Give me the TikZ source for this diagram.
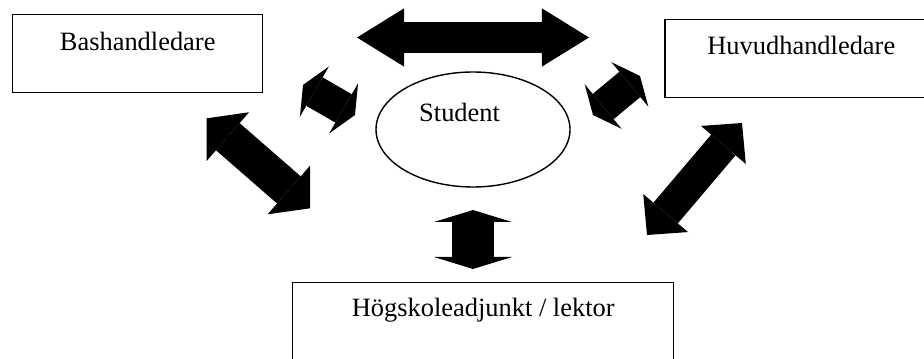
\documentclass[tikz,border=0pt]{standalone}
\usepackage{fontspec}
\setmainfont{Liberation Serif}
\usepackage{tikz}
\usetikzlibrary{arrows.meta,shapes.geometric}

\begin{document}
\begin{tikzpicture}[
    box/.style={draw, line width=1pt, inner sep=0pt, anchor=north west,
                font=\fontsize{18.8}{22}\selectfont},
    oval/.style={draw, ellipse, line width=1pt, inner sep=0pt,
                 minimum width=4.85cm, minimum height=2.875cm},
    txt/.style={font=\fontsize{18.8}{22}\selectfont, anchor=base, inner sep=0pt},
    blk/.style n args={3}{line width=#1,
        arrows={Triangle[width=#2,length=#3,line width=0pt]-Triangle[width=#2,length=#3,line width=0pt]}}]
  \useasboundingbox (0,0) rectangle (23.1,8.95);
  % boxes and the student
  \node[box, minimum width=6.25cm, text height=0.9cm, text depth=1.04cm] (bas) at (0.3,8.6) {Bashandledare};
  \node[box, minimum width=6.81cm, text height=0.88cm, text depth=1.06cm] (huv) at (16.61,8.475) {Huvudhandledare};
  \node[box, minimum width=9.525cm, text height=0.84cm, text depth=1.2cm] (hog) at (7.3,1.9) {Högskoleadjunkt / lektor};
  \node[oval] (stud) at (11.825,5.7125) {};
  \node[txt] (studtxt) at (11.49,5.9) {Student};
  % arrow ends
  \coordinate (bh1) at (8.925,8.0125);
  \coordinate (bh2) at (14.725,8.0125);
  \coordinate (bg1) at (5.1675,5.9925);
  \coordinate (bg2) at (7.75,3.7425);
  \coordinate (bs1) at (7.575,6.825);
  \coordinate (bs2) at (8.875,6.075);
  \coordinate (sh1) at (14.825,6.075);
  \coordinate (sh2) at (16.0,7.05);
  \coordinate (hg1) at (18.55,5.875);
  \coordinate (hg2) at (16.175,3.075);
  \coordinate (sg1) at (11.825,3.7);
  \coordinate (sg2) at (11.825,2.225);
  % block arrows
  \draw[blk={0.76cm}{1.46cm}{1.18cm}] (bh1) -- (bh2);
  \draw[blk={0.9cm}{1.62cm}{0.7cm}] (bg1) -- (bg2);
  \draw[blk={0.82cm}{1.45cm}{0.33cm}] (bs1) -- (bs2);
  \draw[blk={0.82cm}{1.45cm}{0.33cm}] (sh1) -- (sh2);
  \draw[blk={0.8cm}{1.47cm}{0.72cm}] (hg1) -- (hg2);
  \draw[blk={1.05cm}{1.95cm}{0.3cm}] (sg1) -- (sg2);
\end{tikzpicture}
\end{document}
